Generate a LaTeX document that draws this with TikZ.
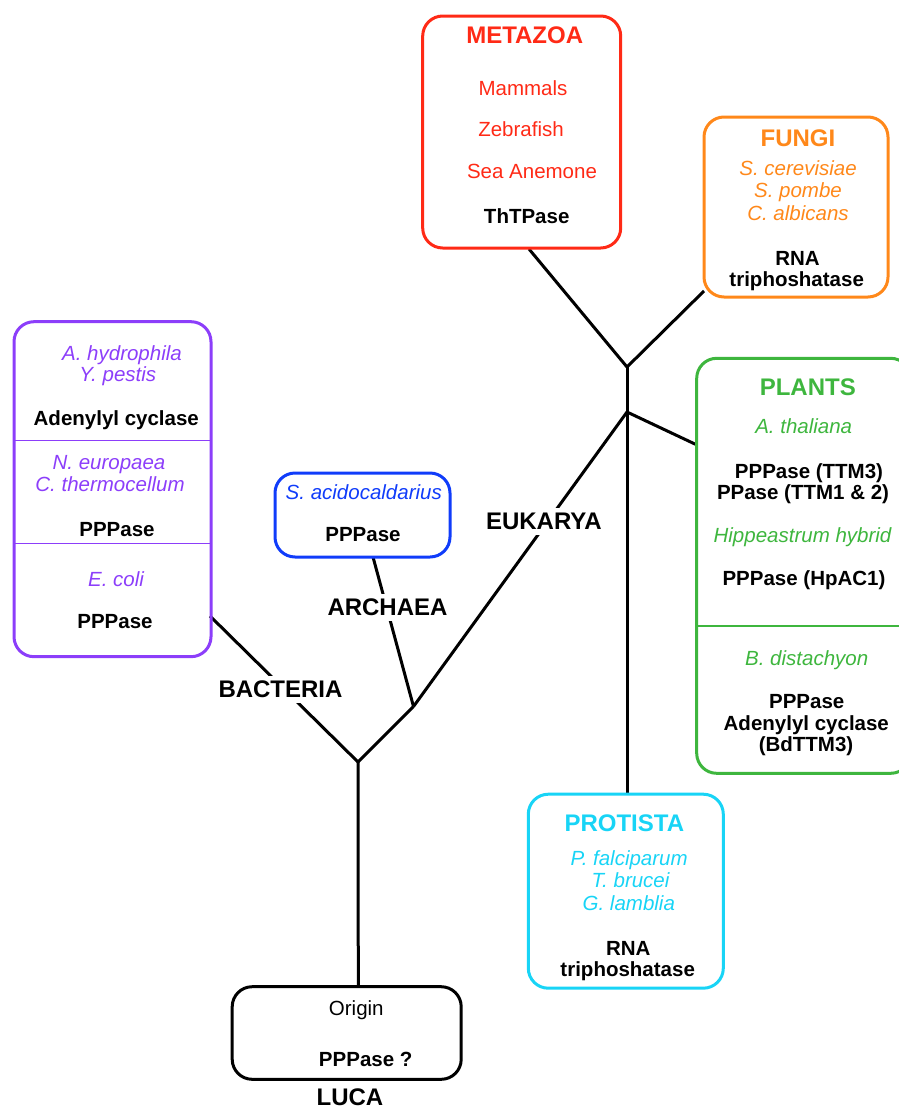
\documentclass[tikz,border=0pt]{standalone}
\usepackage{fontspec}
\setmainfont{Liberation Sans}
\usetikzlibrary{backgrounds}
\definecolor{cMet}{RGB}{255,42,22}
\definecolor{cFun}{RGB}{255,136,26}
\definecolor{cBac}{RGB}{140,62,250}
\definecolor{cArc}{RGB}{16,60,250}
\definecolor{cPla}{RGB}{62,182,62}
\definecolor{cPro}{RGB}{24,212,246}
\begin{document}
\begin{tikzpicture}[x=1pt,y=-1pt,
  t/.style={anchor=base, inner sep=0pt, font=\fontsize{20.5}{22}\selectfont},
  ti/.style={anchor=base, inner sep=0pt, font=\fontsize{20.5}{22}\selectfont\itshape},
  tb/.style={anchor=base, inner sep=0pt, text=black, font=\fontsize{20.5}{22}\selectfont\bfseries},
  hd/.style={anchor=base, inner sep=0pt, font=\fontsize{24}{26}\selectfont\bfseries},
  lbl/.style={anchor=base, inner sep=5pt, fill=white, font=\fontsize{24}{26}\selectfont\bfseries},
  box/.style={draw=#1, line width=3pt, rounded corners=20pt, inner sep=0pt, outer sep=0pt},
  divider/.style={draw=#1, line width=1.5pt},
  branch/.style={draw=black, line width=3pt, line join=round}
]
\useasboundingbox (0,0) rectangle (899,1111);
\clip (0,0) rectangle (899,1111);

% ---------- boxes ----------
\node[box=cMet, minimum width=198pt, minimum height=232pt] (met) at (521.7,132) {};
\node[box=cFun, minimum width=184pt, minimum height=180pt] (fun) at (796,207) {};
\node[box=cBac, minimum width=197pt, minimum height=335pt] (bac) at (112.5,489.2) {};
\node[box=cArc, minimum width=175pt, minimum height=84pt] (arc) at (362.5,515) {};
\node[box=cPla, minimum width=214pt, minimum height=415pt] (pla) at (803.7,565.8) {};
\node[box=cPro, minimum width=195pt, minimum height=194pt] (pro) at (625.8,891.2) {};
\node[box=black, minimum width=229pt, minimum height=92.6pt] (ori) at (346.7,1033) {};

% dividers
\coordinate (bd1) at (0,440.7);
\coordinate (bd2) at (0,543.3);
\coordinate (pd1) at (0,626);
\draw[divider=cBac] (bac.west |- bd1) -- (bac.east |- bd1);
\draw[divider=cBac] (bac.west |- bd2) -- (bac.east |- bd2);
\draw[divider=cPla] (pla.west |- pd1) -- (pla.east |- pd1);

% ---------- METAZOA ----------
\node[hd, text=cMet] (metT) at (524.7,43) {METAZOA};
\node[t, text=cMet] (met1) at (523,95) {Mammals};
\node[t, text=cMet] (met2) at (521,136.7) {Zebrafish};
\node[t, text=cMet] (met3) at (532,178) {Sea Anemone};
\node[tb] (met4) at (526.7,223) {ThTPase};

% ---------- FUNGI ----------
\node[hd, text=cFun] (funT) at (798,146.7) {FUNGI};
\node[ti, text=cFun] (fun1) at (798,175.7) {S. cerevisiae};
\node[ti, text=cFun] (fun2) at (798,197.7) {S. pombe};
\node[ti, text=cFun] (fun3) at (798,220) {C. albicans};
\node[tb] (fun4) at (797.5,265) {RNA};
\node[tb] (fun5) at (796.7,286.5) {triphoshatase};

% ---------- BACTERIA box ----------
\node[ti, text=cBac] (bac1) at (122,360) {A. hydrophila};
\node[ti, text=cBac] (bac2) at (117.8,381.7) {Y. pestis};
\node[tb] (bac3) at (116.3,425) {Adenylyl cyclase};
\node[ti, text=cBac] (bac4) at (109,469.3) {N. europaea};
\node[ti, text=cBac] (bac5) at (110,491) {C. thermocellum};
\node[tb] (bac6) at (117,536) {PPPase};
\node[ti, text=cBac] (bac7) at (116,586.7) {E. coli};
\node[tb] (bac8) at (115,628.3) {PPPase};

% ---------- ARCHAEA box ----------
\node[ti, text=cArc] (arc1) at (363.8,499.3) {S. acidocaldarius};
\node[tb] (arc2) at (363,541) {PPPase};

% ---------- PLANTS ----------
\node[hd, text=cPla] (plaT) at (807.8,395) {PLANTS};
\node[ti, text=cPla] (pla1) at (803.7,433.3) {A. thaliana};
\node[tb] (pla2) at (809,478.3) {PPPase (TTM3)};
\node[tb] (pla3) at (803,499.3) {PPase (TTM1 \& 2)};
\node[ti, text=cPla] (pla4) at (802.5,542.7) {Hippeastrum hybrid};
\node[tb] (pla5) at (804,585) {PPPase (HpAC1)};
\node[ti, text=cPla] (pla6) at (806.7,665) {B. distachyon};
\node[tb] (pla7) at (806.7,708.3) {PPPase};
\node[tb] (pla8) at (806.3,730) {Adenylyl cyclase};
\node[tb] (pla9) at (806,751.7) {(BdTTM3)};

% ---------- PROTISTA ----------
\node[hd, text=cPro] (proT) at (624.3,831) {PROTISTA};
\node[ti, text=cPro] (pro1) at (629.2,865.7) {P. falciparum};
\node[ti, text=cPro] (pro2) at (630.5,887.3) {T. brucei};
\node[ti, text=cPro] (pro3) at (628.8,910) {G. lamblia};
\node[tb] (pro4) at (628.3,955) {RNA};
\node[tb] (pro5) at (627.7,976.7) {triphoshatase};

% ---------- ORIGIN ----------
\node[t] (ori1) at (356.3,1015) {Origin};
\node[tb] (ori2) at (365.7,1066.7) {PPPase ?};
\node[hd] (luca) at (350,1105) {LUCA};

% ---------- branch labels ----------
\node[lbl] (lB) at (280.5,697.3) {BACTERIA};
\node[lbl] (lA) at (387.5,615.7) {ARCHAEA};
\node[lbl] (lE) at (543.8,529.3) {EUKARYA};

% ---------- tree ----------
\coordinate (root) at (358.3,986.7);
\coordinate (fB) at (358,762);
\coordinate (fAE) at (413.5,706.5);
\coordinate (fE) at (627,412);
\coordinate (fMF) at (627,367);
\coordinate (bEnd) at (210,616);
\coordinate (aEnd) at (373,557);
\coordinate (mEnd) at (529,249);
\coordinate (fEnd) at (704,291);
\coordinate (pEnd) at (697,445);
\coordinate (prEnd) at (627,794);

\begin{scope}[on background layer]
\draw[branch] (root) -- (fB);
\draw[branch] (fB) -- (bEnd);
\draw[branch] (fB) -- (fAE);
\draw[branch] (fAE) -- (aEnd);
\draw[branch] (fAE) -- (fE);
\draw[branch] (fE) -- (pEnd);
\draw[branch] (fMF) -- (prEnd);
\draw[branch] (fMF) -- (mEnd);
\draw[branch] (fMF) -- (fEnd);
\end{scope}
\end{tikzpicture}
\end{document}
